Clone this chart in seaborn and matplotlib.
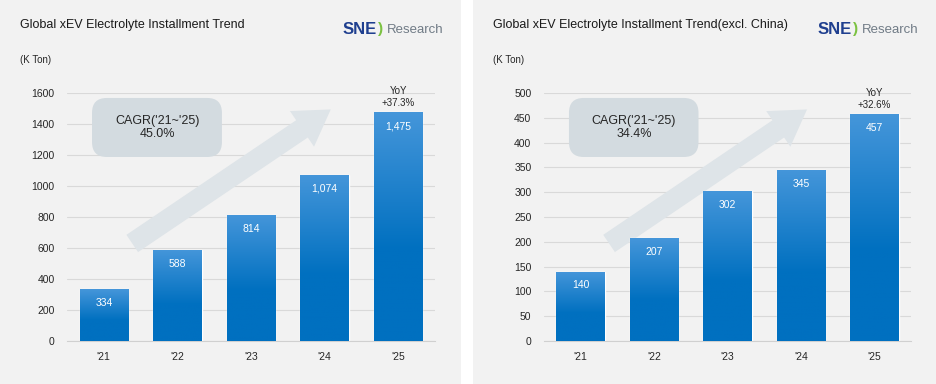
import matplotlib
matplotlib.use("Agg")
import matplotlib.pyplot as plt
import numpy as np
import pandas as pd
import seaborn as sns
from matplotlib.colors import to_rgb
from matplotlib.patches import FancyArrowPatch, FancyBboxPatch, Rectangle

# data
years = ["'21", "'22", "'23", "'24", "'25"]
global_kton = [334, 588, 814, 1074, 1475]
exchina_kton = [140, 207, 302, 345, 457]
titles = ["Global xEV Electrolyte Installment Trend",
          "Global xEV Electrolyte Installment Trend(excl. China)"]
cagr_labels = ["45.0%", "34.4%"]
yoy_labels = ["+37.3%", "+32.6%"]
y_max = [1600, 500]
y_step = [200, 50]

W, H = 936, 384
BG = "#f2f2f2"
TXT = "#262626"
TOP_BLUE = "#4596da"
BASE_BLUE = "#0070c0"

sns.set_theme(style="white")
plt.rcParams["font.family"] = ["Liberation Sans", "DejaVu Sans"]

fig = plt.figure(figsize=(W / 100, H / 100), dpi=100, facecolor="white")

# panel backgrounds (px) and axes boxes (px: left, right, bottom, top)
panels = [(0, 461), (473, 936)]
axes_px = [(67, 435, 341, 93), (544, 911, 341, 93)]


def fx(px):
    return px / W


def fy(py):
    return 1 - py / H


def gradient_bars(ax):
    # lighter blue on top fading into the base blue
    n = 256
    top, base = np.array(to_rgb(TOP_BLUE)), np.array(to_rgb(BASE_BLUE))
    t = np.clip(np.linspace(0, 1, n) / 0.6, 0, 1)[:, None]
    img = (top * (1 - t) + base * t)[:, None, :]
    for p in ax.patches:
        x0, y0 = p.get_x(), p.get_y()
        x1, y1 = x0 + p.get_width(), y0 + p.get_height()
        im = ax.imshow(img, extent=[x0, x1, y0, y1], aspect="auto",
                       origin="upper", zorder=3)
        im.set_clip_path(p)


for i, values in enumerate([global_kton, exchina_kton]):
    l, r = panels[i]
    fig.patches.append(Rectangle((fx(l), 0), fx(r - l), 1, transform=fig.transFigure,
                                 facecolor=BG, edgecolor="none", zorder=-5))

    al, ar, ab, at = axes_px[i]
    ax = fig.add_axes([fx(al), fy(ab), fx(ar - al), (ab - at) / H])
    ax.set_facecolor("none")

    df = pd.DataFrame({"year": years, "kton": values})
    sns.barplot(data=df, x="year", y="kton", ax=ax, color=BASE_BLUE,
                width=0.66, saturation=1, zorder=2)
    gradient_bars(ax)

    ax.set_xlim(-0.5, len(years) - 0.5)
    ax.set_ylim(0, y_max[i])
    ax.set_yticks(np.arange(0, y_max[i] + 1, y_step[i]))
    ax.yaxis.grid(True, color="#d9d9d9", linewidth=0.8, zorder=0)
    ax.set_axisbelow(True)
    ax.set_xlabel("")
    ax.set_ylabel("")
    for s in ["top", "right", "left"]:
        ax.spines[s].set_visible(False)
    ax.spines["bottom"].set_color("#d0d0d0")
    ax.spines["bottom"].set_linewidth(0.8)
    ax.tick_params(axis="y", length=0, pad=9, labelsize=7.5, labelcolor=TXT)
    ax.tick_params(axis="x", length=0, pad=8, labelsize=7.5, labelcolor=TXT)
    ax.set_xticks(np.arange(-0.5, len(years)), minor=True)
    ax.tick_params(axis="x", which="minor", length=3, color="#d0d0d0", direction="out")

    # value labels inside bars
    for p, v in zip(ax.patches, values):
        ax.annotate(f"{v:,}", (p.get_x() + p.get_width() / 2, p.get_height()),
                    xytext=(0, -10), textcoords="offset points", ha="center",
                    va="center", color="white", fontsize=7.5, zorder=5)
    last = ax.patches[len(values) - 1]
    ax.annotate(f"YoY\n{yoy_labels[i]}",
                (last.get_x() + last.get_width() / 2, last.get_height()),
                xytext=(0, 3), textcoords="offset points", ha="center",
                va="bottom", color=TXT, fontsize=7, linespacing=1.3,
                annotation_clip=False)

    # big trend arrow behind the bars
    arrow = FancyArrowPatch((0.171, 0.387), (0.723, 0.94), transform=ax.transAxes,
                            arrowstyle="simple,head_width=31,head_length=25,tail_width=15",
                            mutation_scale=1, color="#dee4e8", linewidth=0,
                            zorder=1, clip_on=False)
    ax.add_patch(arrow)

    # CAGR box
    box = FancyBboxPatch((0.068, 0.742), 0.353, 0.238, transform=ax.transAxes,
                         boxstyle="round,pad=0,rounding_size=0.04",
                         mutation_aspect=1.5, facecolor="#d3dbe0",
                         edgecolor="none", zorder=4, clip_on=False)
    ax.add_patch(box)
    ax.text(0.245, 0.861, f"CAGR('21~'25)\n{cagr_labels[i]}", transform=ax.transAxes,
            ha="center", va="center", fontsize=9, color=TXT, linespacing=1.15,
            zorder=5)

    # titles and unit
    fig.text(fx(l + 20), fy(25), titles[i], ha="left", va="center",
             fontsize=9, color="#1a1a1a")
    fig.text(fx(l + 20), fy(60), "(K Ton)", ha="left", va="center",
             fontsize=7, color=TXT)

    # SNE Research logo
    lx = r - 118
    fig.text(fx(lx), fy(30), "SNE", ha="left", va="center", fontsize=12,
             fontweight="bold", color="#1f3f8f")
    fig.text(fx(lx + 35), fy(29), ")", ha="left", va="center", fontsize=11,
             fontweight="bold", color="#7cc242")
    fig.text(fx(lx + 44), fy(30), "Research", ha="left", va="center",
             fontsize=9.5, color="#707b86")

fig.savefig("out.png", dpi=100, facecolor=fig.get_facecolor())
